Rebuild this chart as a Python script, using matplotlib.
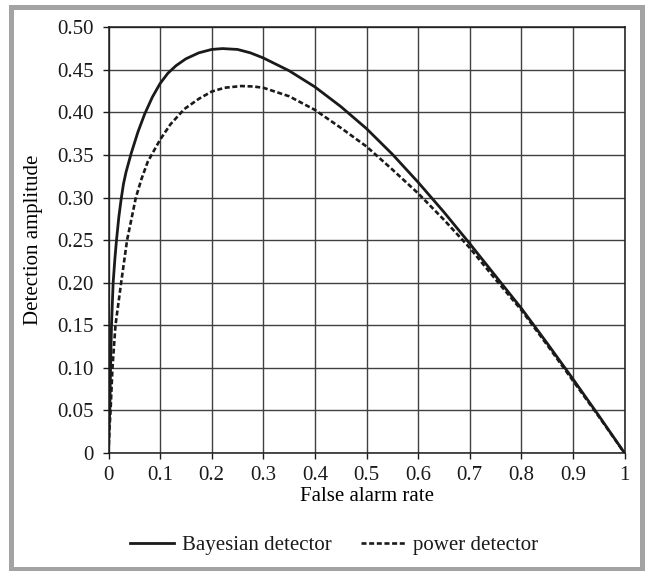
"""Detection amplitude vs false alarm rate, Bayesian vs power detector."""

import matplotlib

matplotlib.use("Agg")
import matplotlib.pyplot as plt
from matplotlib.patches import Rectangle

# Values.
bayes_far = [0, 0.001, 0.0025, 0.004, 0.0058, 0.009, 0.0125, 0.0155, 0.02,
             0.0245, 0.029, 0.034, 0.044, 0.057, 0.07, 0.085, 0.1, 0.115,
             0.131, 0.15, 0.175, 0.2, 0.221, 0.25, 0.275, 0.3, 0.35, 0.4,
             0.45, 0.5, 0.55, 0.6, 0.65, 0.7, 0.75, 0.8, 0.85, 0.9, 0.95, 1.0]
bayes_amp = [0, 0.03, 0.05, 0.10, 0.15, 0.20, 0.229, 0.25, 0.277,
             0.298, 0.316, 0.33, 0.352, 0.377, 0.398, 0.418, 0.434, 0.446,
             0.455, 0.463, 0.470, 0.474, 0.475, 0.474, 0.470, 0.464, 0.449, 0.430,
             0.407, 0.381, 0.351, 0.318, 0.283, 0.246, 0.208, 0.170, 0.129, 0.087,
             0.044, 0]

power_far = [0, 0.002, 0.004, 0.0077, 0.0135, 0.0245, 0.036, 0.053, 0.064,
             0.076, 0.088, 0.1, 0.12, 0.147, 0.175, 0.2, 0.225, 0.257, 0.28,
             0.3, 0.35, 0.4, 0.45, 0.5, 0.55, 0.6, 0.65, 0.7, 0.75, 0.8,
             0.85, 0.9, 0.95, 1.0]
power_amp = [0, 0.03, 0.05, 0.10, 0.15, 0.20, 0.25, 0.30, 0.322,
             0.342, 0.355, 0.368, 0.386, 0.404, 0.416, 0.4245, 0.429, 0.431, 0.4305,
             0.429, 0.419, 0.403, 0.382, 0.360, 0.333, 0.305, 0.274, 0.241, 0.204,
             0.168, 0.127, 0.085, 0.043, 0]

x_ticks = [0, 0.1, 0.2, 0.3, 0.4, 0.5, 0.6, 0.7, 0.8, 0.9, 1.0]
x_labels = ["0", "0.1", "0.2", "0.3", "0.4", "0.5", "0.6", "0.7", "0.8", "0.9", "1"]
y_ticks = [0, 0.05, 0.10, 0.15, 0.20, 0.25, 0.30, 0.35, 0.40, 0.45, 0.50]
y_labels = ["0"] + [f"{v:.2f}" for v in y_ticks[1:]]

plt.rcParams["font.family"] = ["Liberation Serif", "DejaVu Serif"]
plt.rcParams["font.size"] = 15
plt.rcParams["text.color"] = "#1a1a1a"
plt.rcParams["xtick.labelcolor"] = "#1a1a1a"
plt.rcParams["ytick.labelcolor"] = "#1a1a1a"

W, H = 645, 571
fig = plt.figure(figsize=(W / 100, H / 100), dpi=100)
ax = fig.add_axes([108.5 / W, (H - 453) / H, 516 / W, 425.7 / H])

ax.plot(bayes_far, bayes_amp, color="#1a1a1a", lw=2.0,
        label="Bayesian detector")
ax.plot(power_far, power_amp, color="#1a1a1a", lw=1.9, dashes=(1.9, 1.0),
        label="power detector")

ax.set_xlim(0, 1)
ax.set_ylim(0, 0.5)
ax.set_xticks(x_ticks, x_labels)
ax.set_yticks(y_ticks, y_labels)
ax.grid(True, color="#404040", lw=1.0)
ax.set_axisbelow(True)
for s in ax.spines.values():
    s.set_color("#1a1a1a")
    s.set_linewidth(1.1)
ax.tick_params(direction="out", length=4.5, width=1.0, color="#1a1a1a")
ax.tick_params(axis="y", pad=6)
ax.tick_params(axis="x", pad=5)

ax.set_xlabel("False alarm rate")
ax.set_ylabel("Detection amplitude")
ax.yaxis.set_label_coords((43 - 108.5) / 516, 0.5)
ax.xaxis.set_label_coords(0.5, (453 - 487) / 425.7)

fig.legend(loc="center", bbox_to_anchor=(334.5 / W, (H - 545) / H),
           ncol=2, frameon=False, handlelength=2.1, handletextpad=0.4,
           columnspacing=1.4)

# Gray frame round the whole figure.
fig.patches.append(Rectangle((10.5 / W, 2.5 / H), 631 / W, 562 / H,
                             transform=fig.transFigure, fill=False,
                             edgecolor="#a3a3a3", lw=3.6))

fig.savefig("out.png", dpi=100)
